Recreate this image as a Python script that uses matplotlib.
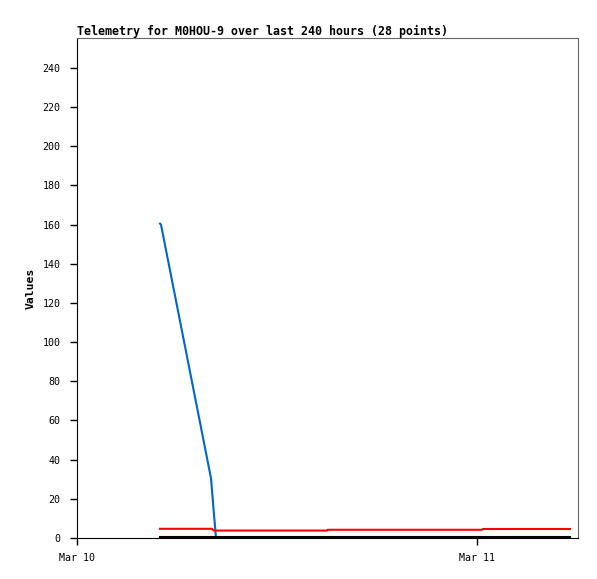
import datetime as dt
import matplotlib
matplotlib.use("Agg")
import matplotlib.pyplot as plt
import matplotlib.dates as mdates

# hours after Mar 10 00:00
blue_hours = [4.98, 5.04, 8.04, 8.22, 8.34]
blue_vals = [160.5, 160, 30.5, 12, 0]

red_hours = [4.98, 8.1, 8.2, 15.0, 15.05, 24.3, 24.36, 29.58]
red_vals = [4.7, 4.7, 3.8, 3.8, 4.2, 4.2, 4.6, 4.6]

black_hours = [4.98, 29.58]
black_vals = [0.3, 0.3]

title = "Telemetry for M0HOU-9 over last 240 hours (28 points)"
ylabel = "Values"
y_ticks = list(range(0, 241, 20))

start = dt.datetime(2024, 3, 10)
def to_dates(hours):
    return [start + dt.timedelta(hours=h) for h in hours]

plt.rcParams['font.family'] = ['DejaVu Sans Mono']
fig = plt.figure(figsize=(5.97, 5.79), dpi=100)
ax = fig.add_axes([77/597, 1 - 538/579, 501/597, 500/579])

ax.plot(to_dates(blue_hours), blue_vals, color='#0066cc', lw=1.5)
ax.plot(to_dates(red_hours), red_vals, color='#ff0000', lw=1.5)
ax.plot(to_dates(black_hours), black_vals, color='black', lw=1.5)

ax.set_xlim(start, start + dt.timedelta(hours=30.06))
ax.set_ylim(0, 255.3)
ax.set_yticks(y_ticks)
ax.xaxis.set_major_locator(mdates.DayLocator())
ax.xaxis.set_major_formatter(mdates.DateFormatter('%b %d'))

ax.tick_params(direction='out', length=5, width=1, labelsize=7.2, colors='black')
ax.tick_params(axis='y', pad=7)
ax.tick_params(axis='x', pad=6)
for s in ['top', 'right']:
    ax.spines[s].set_color('#666666')
for s in ['left', 'bottom']:
    ax.spines[s].set_color('black')

ax.set_title(title, loc='left', fontsize=8.35, fontweight='bold', pad=2)
ax.set_ylabel(ylabel, fontsize=8.2, fontweight='bold', labelpad=5)

fig.savefig('out.png', dpi=100)
